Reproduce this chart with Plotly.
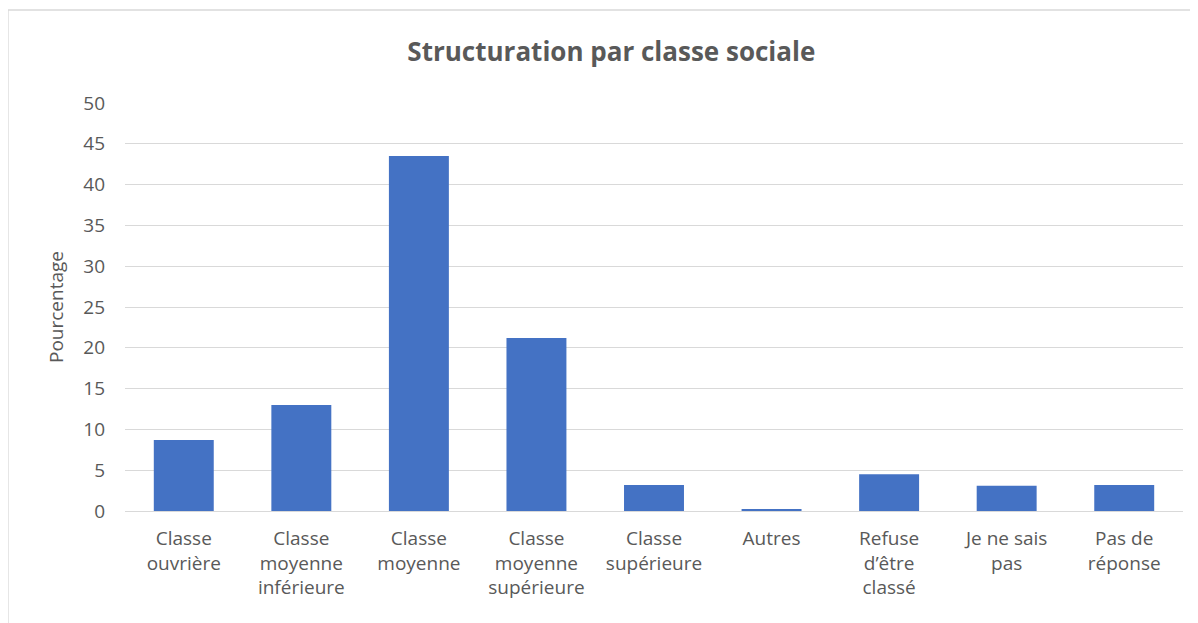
import plotly.graph_objects as go

categories = ["Classe<br>ouvrière", "Classe<br>moyenne<br>inférieure", "Classe<br>moyenne",
              "Classe<br>moyenne<br>supérieure", "Classe<br>supérieure", "Autres",
              "Refuse<br>d’être<br>classé", "Je ne sais<br>pas", "Pas de<br>réponse"]
values = [8.7, 13.0, 43.5, 21.2, 3.2, 0.2, 4.5, 3.1, 3.2]
y_ticks = [0, 5, 10, 15, 20, 25, 30, 35, 40, 45, 50]

FONT = "Open Sans"
GRAY = "#595959"

fig = go.Figure(go.Bar(
    x=list(range(len(categories))), y=values,
    width=0.51,
    marker=dict(color="#4472c4", line=dict(width=0)),
))

fig.update_layout(
    width=1190, height=615,
    margin=dict(l=117, r=15, t=95, b=112),
    paper_bgcolor="white", plot_bgcolor="white",
    title=dict(text="<b>Structuration par classe sociale</b>", x=0.507, xanchor="center",
               y=(615 - 44) / 615, yanchor="middle",
               font=dict(family=FONT, size=26, color=GRAY)),
    font=dict(family=FONT, size=19, color=GRAY),
    showlegend=False,
    xaxis=dict(tickmode="array", tickvals=list(range(len(categories))), ticktext=categories,
               range=[-0.5, len(categories) - 0.5], showgrid=False, showline=False,
               zeroline=False, ticks="", ticklabelstandoff=14,
               tickfont=dict(size=19, color=GRAY)),
    yaxis=dict(range=[0, 50], tickmode="array", tickvals=y_ticks,
               showgrid=True, gridcolor="#d9d9d9", gridwidth=1.3,
               zeroline=True, zerolinecolor="#d9d9d9", zerolinewidth=1.3,
               showline=False, ticks="", ticklabelstandoff=19,
               title=dict(text="Pourcentage", font=dict(size=19, color=GRAY), standoff=14),
               tickfont=dict(size=19, color=GRAY)),
    shapes=[dict(type="rect", xref="paper", yref="paper",
                 x0=(8 - 125) / 1058, x1=(1300 - 125) / 1058,
                 y0=(511 - 700) / 408, y1=(511 - 10) / 408,
                 line=dict(color="#d9d9d9", width=1.3), fillcolor="rgba(0,0,0,0)", layer="below")],
)

fig.write_html("out.html")
